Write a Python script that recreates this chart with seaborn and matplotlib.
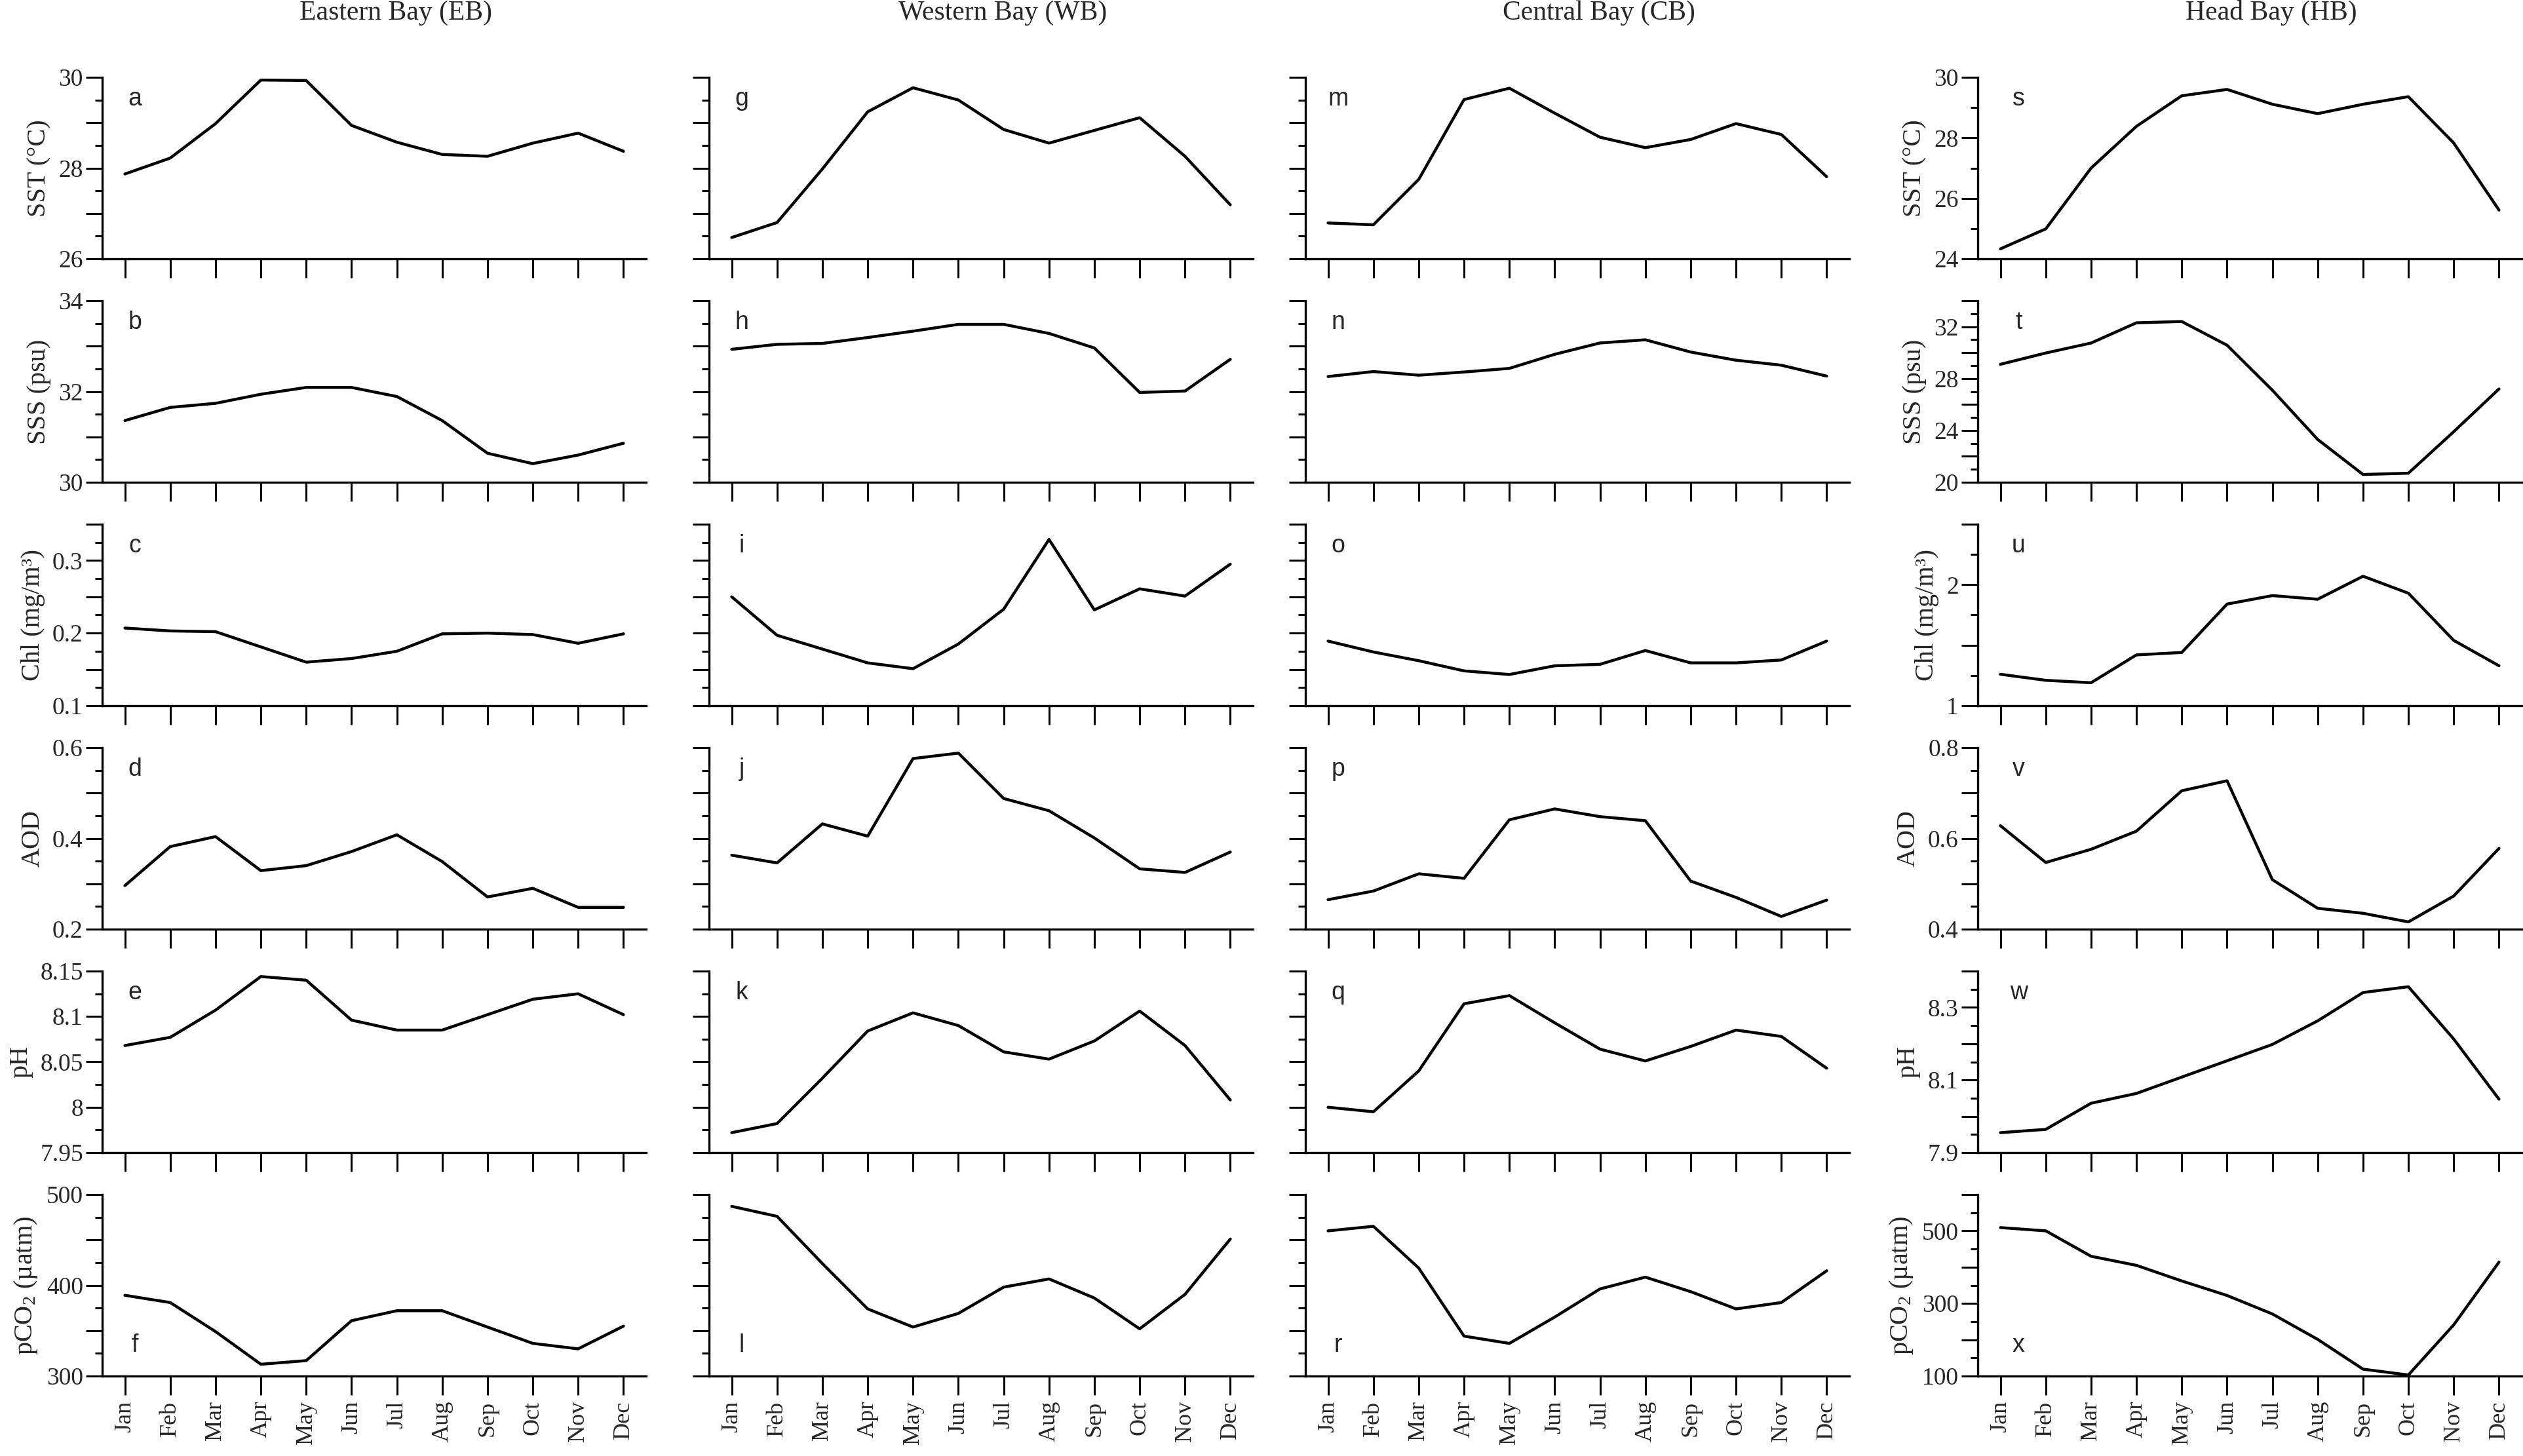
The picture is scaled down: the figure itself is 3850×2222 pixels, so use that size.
import numpy as np
import pandas as pd
import seaborn as sns
import matplotlib.pyplot as plt
from matplotlib.ticker import FixedLocator, FuncFormatter

# ---- data ----
months = ["Jan", "Feb", "Mar", "Apr", "May", "Jun",
          "Jul", "Aug", "Sep", "Oct", "Nov", "Dec"]
bays = ["Eastern Bay (EB)", "Western Bay (WB)", "Central Bay (CB)", "Head Bay (HB)"]
variables = ["SST", "SSS", "Chl", "AOD", "pH", "pCO2"]
ylabels = ["SST (°C)", "SSS (psu)", "Chl (mg/m³)", "AOD", "pH", "pCO$_2$ (µatm)"]
panel_letters = list("abcdefghijklmnopqrstuvwx")

# Eastern Bay
eb_sst = [27.87, 28.22, 28.98, 29.94, 29.93, 28.94, 28.57, 28.30, 28.26, 28.55, 28.77, 28.37]
eb_sss = [31.36, 31.65, 31.74, 31.94, 32.09, 32.09, 31.89, 31.36, 30.64, 30.41, 30.60, 30.86]
eb_chl = [0.207, 0.203, 0.202, 0.181, 0.160, 0.165, 0.175, 0.199, 0.200, 0.198, 0.186, 0.199]
eb_aod = [0.296, 0.382, 0.404, 0.329, 0.340, 0.371, 0.408, 0.349, 0.271, 0.290, 0.248, 0.248]
eb_ph = [8.068, 8.077, 8.107, 8.144, 8.140, 8.096, 8.085, 8.085, 8.102, 8.119, 8.125, 8.102]
eb_pco2 = [389, 381, 349, 313, 317, 361, 372, 372, 354, 336, 330, 355]

# Western Bay
wb_sst = [26.47, 26.80, 27.98, 29.24, 29.77, 29.50, 28.85, 28.55, 28.83, 29.11, 28.26, 27.19]
wb_sss = [32.93, 33.04, 33.06, 33.19, 33.33, 33.48, 33.48, 33.28, 32.96, 31.98, 32.01, 32.71]
wb_chl = [0.250, 0.197, 0.178, 0.159, 0.151, 0.185, 0.233, 0.329, 0.232, 0.261, 0.251, 0.295]
wb_aod = [0.363, 0.346, 0.432, 0.405, 0.576, 0.588, 0.488, 0.461, 0.401, 0.333, 0.325, 0.370]
wb_ph = [7.972, 7.982, 8.032, 8.084, 8.104, 8.090, 8.061, 8.053, 8.073, 8.106, 8.068, 8.008]
wb_pco2 = [487, 476, 424, 374, 354, 369, 398, 407, 386, 352, 390, 451]

# Central Bay
cb_sst = [26.79, 26.75, 27.75, 29.51, 29.76, 29.21, 28.68, 28.45, 28.63, 28.98, 28.74, 27.81]
cb_sss = [32.33, 32.44, 32.36, 32.43, 32.51, 32.82, 33.07, 33.14, 32.87, 32.69, 32.58, 32.34]
cb_chl = [0.189, 0.174, 0.162, 0.148, 0.143, 0.155, 0.157, 0.176, 0.159, 0.159, 0.163, 0.189]
cb_aod = [0.265, 0.284, 0.322, 0.312, 0.441, 0.465, 0.448, 0.439, 0.306, 0.270, 0.228, 0.264]
cb_ph = [8.000, 7.995, 8.040, 8.114, 8.123, 8.093, 8.064, 8.051, 8.067, 8.085, 8.078, 8.043]
cb_pco2 = [460, 465, 419, 344, 336, 365, 396, 409, 393, 374, 381, 416]

# Head Bay
hb_sst = [24.33, 24.99, 27.00, 28.38, 29.39, 29.60, 29.11, 28.80, 29.11, 29.36, 27.83, 25.61]
hb_sss = [29.1, 29.97, 30.74, 32.3, 32.4, 30.57, 27.1, 23.3, 20.6, 20.7, 23.9, 27.2]
hb_chl = [1.26, 1.21, 1.19, 1.42, 1.44, 1.84, 1.91, 1.88, 2.07, 1.93, 1.54, 1.33]
hb_aod = [0.628, 0.547, 0.576, 0.616, 0.705, 0.727, 0.509, 0.446, 0.435, 0.416, 0.473, 0.578]
hb_ph = [7.955, 7.964, 8.036, 8.063, 8.108, 8.153, 8.198, 8.263, 8.341, 8.357, 8.213, 8.047]
hb_pco2 = [509, 500, 430, 405, 362, 322, 271, 201, 119, 103, 241, 414]

series = [
    [eb_sst, eb_sss, eb_chl, eb_aod, eb_ph, eb_pco2],
    [wb_sst, wb_sss, wb_chl, wb_aod, wb_ph, wb_pco2],
    [cb_sst, cb_sss, cb_chl, cb_aod, cb_ph, cb_pco2],
    [hb_sst, hb_sss, hb_chl, hb_aod, hb_ph, hb_pco2],
]

# y axis: (low, high, major step, minor step, label step)
scales_shared = [
    (26, 30, 1, 0.5, 2),
    (30, 34, 1, 0.5, 2),
    (0.1, 0.35, 0.05, 0.025, 0.1),
    (0.2, 0.6, 0.1, 0.05, 0.2),
    (7.95, 8.15, 0.05, 0.025, 0.05),
    (300, 500, 50, 25, 100),
]
scales_hb = [
    (24, 30, 2, 1, 2),
    (20, 34, 2, 1, 4),
    (1, 2.5, 0.5, 0.25, 1),
    (0.4, 0.8, 0.1, 0.05, 0.2),
    (7.9, 8.4, 0.1, 0.05, 0.2),
    (100, 600, 100, 50, 200),
]

# ---- style ----
sns.set_theme(style="ticks")
plt.rcParams["font.family"] = ["Liberation Serif", "DejaVu Serif"]
plt.rcParams["mathtext.fontset"] = "custom"
plt.rcParams["mathtext.rm"] = "Liberation Serif"
plt.rcParams["mathtext.it"] = "Liberation Serif:italic"

W, H = 3850, 2222
fig = plt.figure(figsize=(38.5, 22.22), dpi=100)

col_left = [156, 1082, 1992, 3018]
ax_w = 830
row_top = [118 + 341 * i for i in range(6)]
ax_h = 277


def make_formatter(lo, step):
    def fmt(v, pos):
        k = (v - lo) / step
        if abs(k - round(k)) < 1e-6:
            return f"{round(v, 4):g}"
        return ""
    return FuncFormatter(fmt)


for c in range(4):
    scales = scales_hb if c == 3 else scales_shared
    for r in range(6):
        ax = fig.add_axes([col_left[c] / W, 1 - (row_top[r] + ax_h) / H,
                           ax_w / W, ax_h / H])
        df = pd.DataFrame({"month": np.arange(12), "value": series[c][r]})
        sns.lineplot(data=df, x="month", y="value", ax=ax,
                     color="black", linewidth=3.2)

        lo, hi, major, minor, lab = scales[r]
        ax.set_ylim(lo, hi)
        ax.set_xlim(-0.5, 11.5)
        ax.yaxis.set_major_locator(FixedLocator(np.round(np.arange(lo, hi + minor / 2, major), 6)))
        ax.yaxis.set_minor_locator(FixedLocator(np.round(np.arange(lo, hi + minor / 2, minor), 6)))
        ax.yaxis.set_major_formatter(make_formatter(lo, lab))

        ax.set_xticks(np.arange(12))
        ax.xaxis.set_minor_locator(FixedLocator([]))
        if r == 5:
            ax.set_xticklabels(months, rotation=90, fontsize=26)
        else:
            ax.set_xticklabels([])

        sns.despine(ax=ax)
        for s in ["left", "bottom"]:
            ax.spines[s].set_linewidth(2.4)
            ax.spines[s].set_color("black")

        ax.tick_params(axis="x", which="major", direction="out", length=21,
                       width=2.2, color="black", pad=6)
        ax.tick_params(axis="y", which="major", direction="out", length=18,
                       width=2.2, color="black", labelsize=27, pad=3)
        ax.tick_params(axis="y", which="minor", direction="out", length=8,
                       width=2.2, color="black")

        if c in (0, 3):
            ax.set_ylabel(ylabels[r], fontsize=29, labelpad=8)
        else:
            ax.set_ylabel("")
            ax.tick_params(axis="y", labelleft=False)
        ax.set_xlabel("")

        lx = 0.075 if c == 3 else 0.06
        ly = 0.17 if r == 5 else 0.88
        ax.text(lx, ly, panel_letters[c * 6 + r], transform=ax.transAxes,
                ha="center", va="center", fontsize=27,
                family=["Liberation Sans", "DejaVu Sans"])

        if r == 0:
            ax.text(0.54, 1.355, bays[c], transform=ax.transAxes,
                    ha="center", va="center", fontsize=30)

fig.savefig("out.png", dpi=100, facecolor="white")
